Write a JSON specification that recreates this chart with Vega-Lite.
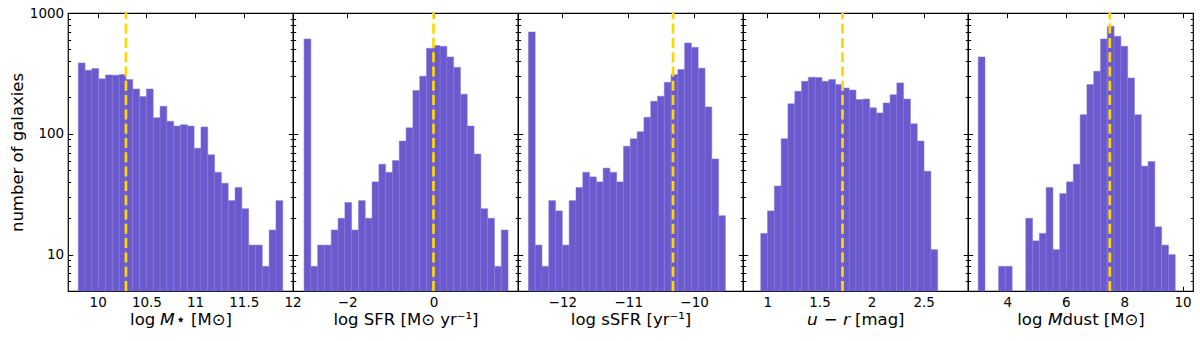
{
  "$schema": "https://vega.github.io/schema/vega-lite/v6.json",
  "padding": {"left": 8, "top": 5, "right": 0, "bottom": 0},
  "spacing": 0,
  "bounds": "flush",
  "resolve": {"scale": {"x": "independent", "y": "independent"}},
  "datasets": {
    "mstar": [
      {"lo": 9.80, "hi": 9.87, "n": 386}, {"lo": 9.87, "hi": 9.94, "n": 336}, {"lo": 9.94, "hi": 10.01, "n": 347},
      {"lo": 10.01, "hi": 10.08, "n": 285}, {"lo": 10.08, "hi": 10.15, "n": 307}, {"lo": 10.15, "hi": 10.22, "n": 305},
      {"lo": 10.22, "hi": 10.29, "n": 310}, {"lo": 10.29, "hi": 10.36, "n": 281}, {"lo": 10.36, "hi": 10.43, "n": 235},
      {"lo": 10.43, "hi": 10.50, "n": 204}, {"lo": 10.50, "hi": 10.57, "n": 235}, {"lo": 10.57, "hi": 10.64, "n": 136},
      {"lo": 10.64, "hi": 10.71, "n": 169}, {"lo": 10.71, "hi": 10.78, "n": 127}, {"lo": 10.78, "hi": 10.85, "n": 116},
      {"lo": 10.85, "hi": 10.92, "n": 119}, {"lo": 10.92, "hi": 10.99, "n": 116}, {"lo": 10.99, "hi": 11.06, "n": 76},
      {"lo": 11.06, "hi": 11.13, "n": 114}, {"lo": 11.13, "hi": 11.20, "n": 67}, {"lo": 11.20, "hi": 11.27, "n": 48},
      {"lo": 11.27, "hi": 11.34, "n": 39}, {"lo": 11.34, "hi": 11.41, "n": 28}, {"lo": 11.41, "hi": 11.48, "n": 36},
      {"lo": 11.48, "hi": 11.55, "n": 24}, {"lo": 11.55, "hi": 11.62, "n": 12}, {"lo": 11.62, "hi": 11.69, "n": 12},
      {"lo": 11.69, "hi": 11.76, "n": 8}, {"lo": 11.76, "hi": 11.83, "n": 16}, {"lo": 11.83, "hi": 11.90, "n": 28}
    ],
    "sfr": [
      {"lo": -3.000, "hi": -2.842, "n": 610}, {"lo": -2.842, "hi": -2.685, "n": 8}, {"lo": -2.685, "hi": -2.527, "n": 12},
      {"lo": -2.527, "hi": -2.370, "n": 12}, {"lo": -2.370, "hi": -2.212, "n": 16}, {"lo": -2.212, "hi": -2.054, "n": 20},
      {"lo": -2.054, "hi": -1.897, "n": 27}, {"lo": -1.897, "hi": -1.739, "n": 16}, {"lo": -1.739, "hi": -1.582, "n": 28},
      {"lo": -1.582, "hi": -1.424, "n": 20}, {"lo": -1.424, "hi": -1.266, "n": 40}, {"lo": -1.266, "hi": -1.109, "n": 56},
      {"lo": -1.109, "hi": -0.951, "n": 48}, {"lo": -0.951, "hi": -0.794, "n": 60}, {"lo": -0.794, "hi": -0.636, "n": 87},
      {"lo": -0.636, "hi": -0.478, "n": 112}, {"lo": -0.478, "hi": -0.321, "n": 228}, {"lo": -0.321, "hi": -0.163, "n": 300},
      {"lo": -0.163, "hi": -0.006, "n": 511}, {"lo": -0.006, "hi": 0.152, "n": 537}, {"lo": 0.152, "hi": 0.310, "n": 530},
      {"lo": 0.310, "hi": 0.467, "n": 433}, {"lo": 0.467, "hi": 0.625, "n": 355}, {"lo": 0.625, "hi": 0.782, "n": 213},
      {"lo": 0.782, "hi": 0.940, "n": 116}, {"lo": 0.940, "hi": 1.098, "n": 68}, {"lo": 1.098, "hi": 1.255, "n": 24},
      {"lo": 1.255, "hi": 1.413, "n": 20}, {"lo": 1.413, "hi": 1.570, "n": 8}, {"lo": 1.570, "hi": 1.728, "n": 16}
    ],
    "ssfr": [
      {"lo": -12.515, "hi": -12.412, "n": 697}, {"lo": -12.412, "hi": -12.309, "n": 12}, {"lo": -12.309, "hi": -12.206, "n": 8},
      {"lo": -12.206, "hi": -12.103, "n": 28}, {"lo": -12.103, "hi": -12.000, "n": 23}, {"lo": -12.000, "hi": -11.897, "n": 12},
      {"lo": -11.897, "hi": -11.793, "n": 28}, {"lo": -11.793, "hi": -11.690, "n": 36}, {"lo": -11.690, "hi": -11.587, "n": 48},
      {"lo": -11.587, "hi": -11.484, "n": 44}, {"lo": -11.484, "hi": -11.381, "n": 40}, {"lo": -11.381, "hi": -11.278, "n": 52},
      {"lo": -11.278, "hi": -11.175, "n": 48}, {"lo": -11.175, "hi": -11.072, "n": 40}, {"lo": -11.072, "hi": -10.969, "n": 79},
      {"lo": -10.969, "hi": -10.865, "n": 91}, {"lo": -10.865, "hi": -10.762, "n": 104}, {"lo": -10.762, "hi": -10.659, "n": 137},
      {"lo": -10.659, "hi": -10.556, "n": 186}, {"lo": -10.556, "hi": -10.453, "n": 205}, {"lo": -10.453, "hi": -10.350, "n": 267},
      {"lo": -10.350, "hi": -10.247, "n": 309}, {"lo": -10.247, "hi": -10.144, "n": 340}, {"lo": -10.144, "hi": -10.041, "n": 565},
      {"lo": -10.041, "hi": -9.938, "n": 520}, {"lo": -9.938, "hi": -9.834, "n": 349}, {"lo": -9.834, "hi": -9.731, "n": 167},
      {"lo": -9.731, "hi": -9.628, "n": 62}, {"lo": -9.628, "hi": -9.525, "n": 21}
    ],
    "ur": [
      {"lo": 0.936, "hi": 1.001, "n": 15}, {"lo": 1.001, "hi": 1.067, "n": 23}, {"lo": 1.067, "hi": 1.132, "n": 37},
      {"lo": 1.132, "hi": 1.197, "n": 91}, {"lo": 1.197, "hi": 1.263, "n": 177}, {"lo": 1.263, "hi": 1.328, "n": 225},
      {"lo": 1.328, "hi": 1.393, "n": 272}, {"lo": 1.393, "hi": 1.458, "n": 294}, {"lo": 1.458, "hi": 1.524, "n": 292},
      {"lo": 1.524, "hi": 1.589, "n": 272}, {"lo": 1.589, "hi": 1.654, "n": 281}, {"lo": 1.654, "hi": 1.720, "n": 256},
      {"lo": 1.720, "hi": 1.785, "n": 240}, {"lo": 1.785, "hi": 1.850, "n": 230}, {"lo": 1.850, "hi": 1.916, "n": 192},
      {"lo": 1.916, "hi": 1.981, "n": 194}, {"lo": 1.981, "hi": 2.046, "n": 164}, {"lo": 2.046, "hi": 2.111, "n": 149},
      {"lo": 2.111, "hi": 2.177, "n": 180}, {"lo": 2.177, "hi": 2.242, "n": 211}, {"lo": 2.242, "hi": 2.307, "n": 264},
      {"lo": 2.307, "hi": 2.373, "n": 194}, {"lo": 2.373, "hi": 2.438, "n": 121}, {"lo": 2.438, "hi": 2.503, "n": 87},
      {"lo": 2.503, "hi": 2.569, "n": 49}, {"lo": 2.569, "hi": 2.634, "n": 11}
    ],
    "dust": [
      {"lo": 3.000, "hi": 3.233, "n": 433}, {"lo": 3.698, "hi": 3.931, "n": 8}, {"lo": 3.931, "hi": 4.164, "n": 8},
      {"lo": 4.629, "hi": 4.862, "n": 20}, {"lo": 4.862, "hi": 5.094, "n": 13}, {"lo": 5.094, "hi": 5.327, "n": 15},
      {"lo": 5.327, "hi": 5.560, "n": 36}, {"lo": 5.560, "hi": 5.792, "n": 11}, {"lo": 5.792, "hi": 6.025, "n": 32},
      {"lo": 6.025, "hi": 6.258, "n": 40}, {"lo": 6.258, "hi": 6.491, "n": 56}, {"lo": 6.491, "hi": 6.723, "n": 144},
      {"lo": 6.723, "hi": 6.956, "n": 256}, {"lo": 6.956, "hi": 7.189, "n": 330}, {"lo": 7.189, "hi": 7.421, "n": 610},
      {"lo": 7.421, "hi": 7.654, "n": 776}, {"lo": 7.654, "hi": 7.887, "n": 641}, {"lo": 7.887, "hi": 8.119, "n": 530},
      {"lo": 8.119, "hi": 8.352, "n": 290}, {"lo": 8.352, "hi": 8.585, "n": 144}, {"lo": 8.585, "hi": 8.818, "n": 54},
      {"lo": 8.818, "hi": 9.050, "n": 59}, {"lo": 9.050, "hi": 9.283, "n": 17}, {"lo": 9.283, "hi": 9.516, "n": 12},
      {"lo": 9.516, "hi": 9.749, "n": 10}
    ]
  },
  "hconcat": [
    {
      "width": 225, "height": 278,
      "resolve": {"axis": {"x": "independent", "y": "independent"}},
      "layer": [
        {
          "data": {"name": "mstar"},
          "mark": {"type": "bar", "fill": "#6a5acd", "stroke": "#8479d8", "strokeWidth": 0.5},
          "encoding": {
            "x": {"field": "lo", "type": "quantitative", "scale": {"domain": [9.695, 12.005], "nice": false, "zero": false},
                  "axis": {"orient": "bottom", "values": [10, 10.5, 11, 11.5, 12], "tickSize": -4.7, "labelPadding": 9, "labelFlush": false, "labelOverlap": false, "labelExpr": "format(datum.value, '~g')", "title": "log \uD835\uDE14\u22C6  [M\u2299]", "titlePadding": 3}},
            "x2": {"field": "hi"},
            "y": {"field": "n", "type": "quantitative", "scale": {"type": "log", "domain": [5, 1000], "nice": false},
                  "axis": {"orient": "left", "values": [6, 7, 8, 9, 10, 20, 30, 40, 50, 60, 70, 80, 90, 100, 200, 300, 400, 500, 600, 700, 800, 900, 1000],
                           "tickSize": {"condition": {"test": "indexof([10, 100, 1000], datum.value) >= 0", "value": -4.7}, "value": -2.7},
                           "labelExpr": "indexof([10, 100, 1000], datum.value) >= 0 ? format(datum.value, 'd') : ''",
                           "labelPadding": 9, "labelOverlap": false, "title": "number of galaxies", "titlePadding": 4}},
            "y2": {"datum": 5}
          }
        },
        {
          "data": {"values": [{"median": 10.29}]},
          "mark": {"type": "rule", "color": "#ffd700", "strokeWidth": 2.7, "strokeDash": [10, 4.3]},
          "encoding": {
            "x": {"field": "median", "type": "quantitative", "axis": {"orient": "top", "values": [10, 10.5, 11, 11.5, 12], "tickSize": -4.7, "labels": false, "title": null}},
            "y": {"datum": 5, "type": "quantitative", "axis": {"orient": "right", "values": [6, 7, 8, 9, 10, 20, 30, 40, 50, 60, 70, 80, 90, 100, 200, 300, 400, 500, 600, 700, 800, 900, 1000],
                  "tickSize": {"condition": {"test": "indexof([10, 100, 1000], datum.value) >= 0", "value": -4.7}, "value": -2.7}, "labels": false, "title": null}},
            "y2": {"datum": 1000}
          }
        }
      ]
    },
    {
      "width": 225, "height": 278,
      "resolve": {"axis": {"x": "independent", "y": "independent"}},
      "layer": [
        {
          "data": {"name": "sfr"},
          "mark": {"type": "bar", "fill": "#6a5acd", "stroke": "#8479d8", "strokeWidth": 0.5},
          "encoding": {
            "x": {"field": "lo", "type": "quantitative", "scale": {"domain": [-3.256, 1.958], "nice": false, "zero": false},
                  "axis": {"orient": "bottom", "values": [-2, 0], "tickSize": -4.7, "labelPadding": 9, "labelFlush": false, "labelOverlap": false, "labelExpr": "format(datum.value, '~g')", "title": "log SFR [M\u2299 yr\u207B\u00B9]", "titlePadding": 3}},
            "x2": {"field": "hi"},
            "y": {"field": "n", "type": "quantitative", "scale": {"type": "log", "domain": [5, 1000], "nice": false},
                  "axis": {"orient": "left", "values": [6, 7, 8, 9, 10, 20, 30, 40, 50, 60, 70, 80, 90, 100, 200, 300, 400, 500, 600, 700, 800, 900, 1000],
                           "tickSize": {"condition": {"test": "indexof([10, 100, 1000], datum.value) >= 0", "value": -4.7}, "value": -2.7},
                           "labels": false, "title": null}},
            "y2": {"datum": 5}
          }
        },
        {
          "data": {"values": [{"median": 0.0}]},
          "mark": {"type": "rule", "color": "#ffd700", "strokeWidth": 2.7, "strokeDash": [10, 4.3]},
          "encoding": {
            "x": {"field": "median", "type": "quantitative", "axis": {"orient": "top", "values": [-2, 0], "tickSize": -4.7, "labels": false, "title": null}},
            "y": {"datum": 5, "type": "quantitative", "axis": {"orient": "right", "values": [6, 7, 8, 9, 10, 20, 30, 40, 50, 60, 70, 80, 90, 100, 200, 300, 400, 500, 600, 700, 800, 900, 1000],
                  "tickSize": {"condition": {"test": "indexof([10, 100, 1000], datum.value) >= 0", "value": -4.7}, "value": -2.7}, "labels": false, "title": null}},
            "y2": {"datum": 1000}
          }
        }
      ]
    },
    {
      "width": 225, "height": 278,
      "resolve": {"axis": {"x": "independent", "y": "independent"}},
      "layer": [
        {
          "data": {"name": "ssfr"},
          "mark": {"type": "bar", "fill": "#6a5acd", "stroke": "#8479d8", "strokeWidth": 0.5},
          "encoding": {
            "x": {"field": "lo", "type": "quantitative", "scale": {"domain": [-12.673, -9.258], "nice": false, "zero": false},
                  "axis": {"orient": "bottom", "values": [-12, -11, -10], "tickSize": -4.7, "labelPadding": 9, "labelFlush": false, "labelOverlap": false, "labelExpr": "format(datum.value, '~g')", "title": "log sSFR [yr\u207B\u00B9]", "titlePadding": 3}},
            "x2": {"field": "hi"},
            "y": {"field": "n", "type": "quantitative", "scale": {"type": "log", "domain": [5, 1000], "nice": false},
                  "axis": {"orient": "left", "values": [6, 7, 8, 9, 10, 20, 30, 40, 50, 60, 70, 80, 90, 100, 200, 300, 400, 500, 600, 700, 800, 900, 1000],
                           "tickSize": {"condition": {"test": "indexof([10, 100, 1000], datum.value) >= 0", "value": -4.7}, "value": -2.7},
                           "labels": false, "title": null}},
            "y2": {"datum": 5}
          }
        },
        {
          "data": {"values": [{"median": -10.32}]},
          "mark": {"type": "rule", "color": "#ffd700", "strokeWidth": 2.7, "strokeDash": [10, 4.3]},
          "encoding": {
            "x": {"field": "median", "type": "quantitative", "axis": {"orient": "top", "values": [-12, -11, -10], "tickSize": -4.7, "labels": false, "title": null}},
            "y": {"datum": 5, "type": "quantitative", "axis": {"orient": "right", "values": [6, 7, 8, 9, 10, 20, 30, 40, 50, 60, 70, 80, 90, 100, 200, 300, 400, 500, 600, 700, 800, 900, 1000],
                  "tickSize": {"condition": {"test": "indexof([10, 100, 1000], datum.value) >= 0", "value": -4.7}, "value": -2.7}, "labels": false, "title": null}},
            "y2": {"datum": 1000}
          }
        }
      ]
    },
    {
      "width": 225, "height": 278,
      "resolve": {"axis": {"x": "independent", "y": "independent"}},
      "layer": [
        {
          "data": {"name": "ur"},
          "mark": {"type": "bar", "fill": "#6a5acd", "stroke": "#8479d8", "strokeWidth": 0.5},
          "encoding": {
            "x": {"field": "lo", "type": "quantitative", "scale": {"domain": [0.766, 2.925], "nice": false, "zero": false},
                  "axis": {"orient": "bottom", "values": [1, 1.5, 2, 2.5], "tickSize": -4.7, "labelPadding": 9, "labelFlush": false, "labelOverlap": false, "labelExpr": "format(datum.value, '~g')", "title": "\uD835\uDE36 \u2212 \uD835\uDE33 [mag]", "titlePadding": 3}},
            "x2": {"field": "hi"},
            "y": {"field": "n", "type": "quantitative", "scale": {"type": "log", "domain": [5, 1000], "nice": false},
                  "axis": {"orient": "left", "values": [6, 7, 8, 9, 10, 20, 30, 40, 50, 60, 70, 80, 90, 100, 200, 300, 400, 500, 600, 700, 800, 900, 1000],
                           "tickSize": {"condition": {"test": "indexof([10, 100, 1000], datum.value) >= 0", "value": -4.7}, "value": -2.7},
                           "labels": false, "title": null}},
            "y2": {"datum": 5}
          }
        },
        {
          "data": {"values": [{"median": 1.721}]},
          "mark": {"type": "rule", "color": "#ffd700", "strokeWidth": 2.7, "strokeDash": [10, 4.3]},
          "encoding": {
            "x": {"field": "median", "type": "quantitative", "axis": {"orient": "top", "values": [1, 1.5, 2, 2.5], "tickSize": -4.7, "labels": false, "title": null}},
            "y": {"datum": 5, "type": "quantitative", "axis": {"orient": "right", "values": [6, 7, 8, 9, 10, 20, 30, 40, 50, 60, 70, 80, 90, 100, 200, 300, 400, 500, 600, 700, 800, 900, 1000],
                  "tickSize": {"condition": {"test": "indexof([10, 100, 1000], datum.value) >= 0", "value": -4.7}, "value": -2.7}, "labels": false, "title": null}},
            "y2": {"datum": 1000}
          }
        }
      ]
    },
    {
      "width": 225, "height": 278,
      "resolve": {"axis": {"x": "independent", "y": "independent"}},
      "layer": [
        {
          "data": {"name": "dust"},
          "mark": {"type": "bar", "fill": "#6a5acd", "stroke": "#8479d8", "strokeWidth": 0.5},
          "encoding": {
            "x": {"field": "lo", "type": "quantitative", "scale": {"domain": [2.651, 10.356], "nice": false, "zero": false},
                  "axis": {"orient": "bottom", "values": [4, 6, 8, 10], "tickSize": -4.7, "labelPadding": 9, "labelFlush": false, "labelOverlap": false, "labelExpr": "format(datum.value, '~g')", "title": "log \uD835\uDE14dust [M\u2299]", "titlePadding": 3}},
            "x2": {"field": "hi"},
            "y": {"field": "n", "type": "quantitative", "scale": {"type": "log", "domain": [5, 1000], "nice": false},
                  "axis": {"orient": "left", "values": [6, 7, 8, 9, 10, 20, 30, 40, 50, 60, 70, 80, 90, 100, 200, 300, 400, 500, 600, 700, 800, 900, 1000],
                           "tickSize": {"condition": {"test": "indexof([10, 100, 1000], datum.value) >= 0", "value": -4.7}, "value": -2.7},
                           "labels": false, "title": null}},
            "y2": {"datum": 5}
          }
        },
        {
          "data": {"values": [{"median": 7.508}]},
          "mark": {"type": "rule", "color": "#ffd700", "strokeWidth": 2.7, "strokeDash": [10, 4.3]},
          "encoding": {
            "x": {"field": "median", "type": "quantitative", "axis": {"orient": "top", "values": [4, 6, 8, 10], "tickSize": -4.7, "labels": false, "title": null}},
            "y": {"datum": 5, "type": "quantitative", "axis": {"orient": "right", "values": [6, 7, 8, 9, 10, 20, 30, 40, 50, 60, 70, 80, 90, 100, 200, 300, 400, 500, 600, 700, 800, 900, 1000],
                  "tickSize": {"condition": {"test": "indexof([10, 100, 1000], datum.value) >= 0", "value": -4.7}, "value": -2.7}, "labels": false, "title": null}},
            "y2": {"datum": 1000}
          }
        }
      ]
    }
  ],
  "config": {
    "view": {"stroke": "black", "strokeWidth": 1.2},
    "axis": {"domain": false, "grid": false, "minExtent": 0, "labelFont": "DejaVu Sans", "labelFontSize": 13.5, "labelColor": "black",
             "titleFont": "DejaVu Sans", "titleFontSize": 16.5, "titleFontWeight": "normal", "titleColor": "black",
             "tickColor": "black", "tickWidth": 1}
  }
}
